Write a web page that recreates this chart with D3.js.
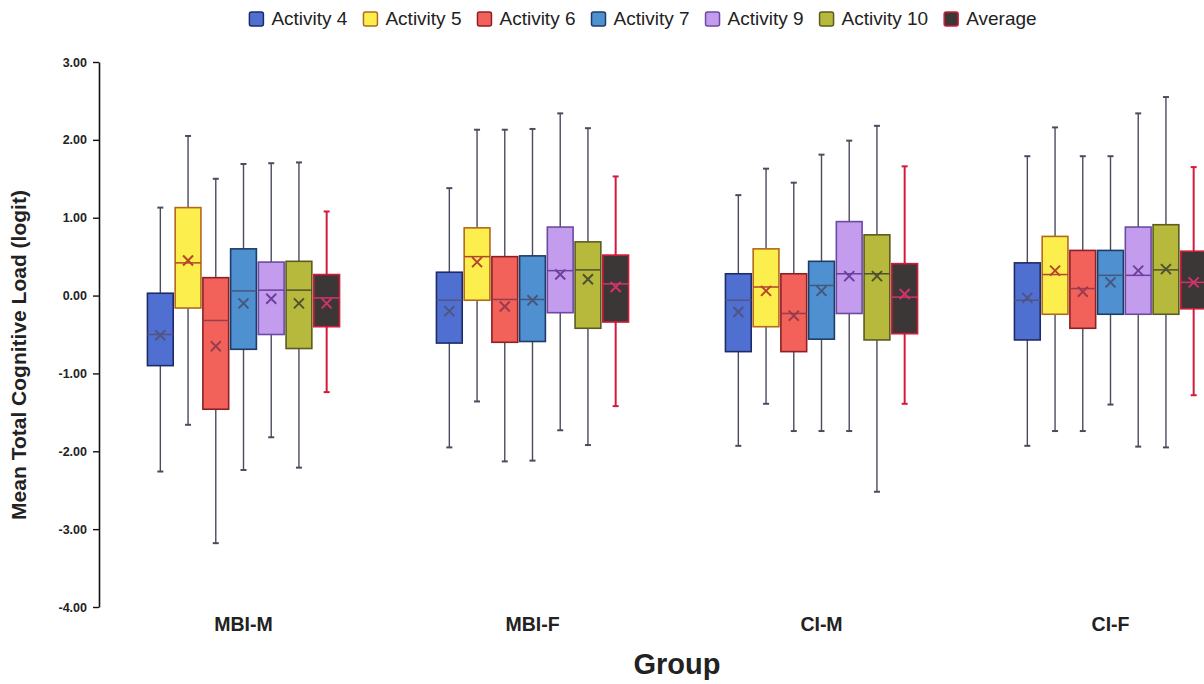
<!DOCTYPE html>
<html>
<head>
<meta charset="utf-8">
<script src="https://cdn.jsdelivr.net/npm/d3@7"></script>
<style>
  html, body { margin: 0; padding: 0; background: #fff; overflow: hidden; }
  svg { display: block; font-family: "Liberation Sans", Arial, sans-serif; }
</style>
</head>
<body>
<svg id="chart" width="1204" height="684"></svg>
<script>
// Groups along the x axis and the series drawn in each group
const groups = ["MBI-M", "MBI-F", "CI-M", "CI-F"];
const series = ["Activity 4", "Activity 5", "Activity 6", "Activity 7", "Activity 9", "Activity 10", "Average"];
const yTicks = [3, 2, 1, 0, -1, -2, -3, -4];

// Box-plot statistics: one row per series, one column per group
const whiskerHigh = [
  [1.13, 1.38, 1.29, 1.79],
  [2.05, 2.13, 1.63, 2.16],
  [1.50, 2.13, 1.45, 1.79],
  [1.69, 2.14, 1.81, 1.79],
  [1.70, 2.34, 1.99, 2.34],
  [1.71, 2.15, 2.18, 2.55],
  [1.08, 1.53, 1.66, 1.65]
];
const upperQuartile = [
  [0.03, 0.30, 0.28, 0.42],
  [1.13, 0.87, 0.60, 0.76],
  [0.23, 0.50, 0.28, 0.58],
  [0.60, 0.51, 0.44, 0.58],
  [0.43, 0.88, 0.95, 0.88],
  [0.44, 0.69, 0.78, 0.91],
  [0.27, 0.52, 0.41, 0.57]
];
const medians = [
  [-0.50, -0.06, -0.06, -0.06],
  [0.42, 0.50, 0.11, 0.27],
  [-0.32, -0.05, -0.23, 0.09],
  [0.06, -0.05, 0.13, 0.26],
  [0.07, 0.32, 0.28, 0.26],
  [0.07, 0.33, 0.28, 0.33],
  [-0.03, 0.15, -0.02, 0.17]
];
const means = [
  [-0.51, -0.20, -0.21, -0.03],
  [0.45, 0.43, 0.06, 0.32],
  [-0.65, -0.14, -0.26, 0.05],
  [-0.10, -0.06, 0.06, 0.17],
  [-0.04, 0.27, 0.25, 0.32],
  [-0.10, 0.21, 0.25, 0.34],
  [-0.10, 0.11, 0.02, 0.17]
];
const lowerQuartile = [
  [-0.90, -0.61, -0.72, -0.57],
  [-0.16, -0.06, -0.40, -0.24],
  [-1.46, -0.60, -0.72, -0.42],
  [-0.69, -0.59, -0.56, -0.24],
  [-0.50, -0.22, -0.23, -0.24],
  [-0.68, -0.42, -0.57, -0.24],
  [-0.40, -0.34, -0.49, -0.17]
];
const whiskerLow = [
  [-2.26, -1.95, -1.93, -1.93],
  [-1.66, -1.36, -1.39, -1.74],
  [-3.18, -2.13, -1.74, -1.74],
  [-2.24, -2.12, -1.74, -1.40],
  [-1.82, -1.73, -1.74, -1.94],
  [-2.21, -1.92, -2.52, -1.95],
  [-1.24, -1.42, -1.39, -1.28]
];

// Per-series styling
const fills   = ["#4f70d1", "#fbee4d", "#f2625b", "#4e90d0", "#c49cee", "#b7b93d", "#3b3737"];
const strokes = ["#1f2b68", "#b2691c", "#8c2024", "#1f3b68", "#6b4ba2", "#5b5b22", "#d21b3b"];
const marks   = ["#535384", "#b4462c", "#9a3c4c", "#46577c", "#6c409c", "#505132", "#d4326c"];
const whiskerColors = ["#4b4b5e", "#4b4b5e", "#4b4b5e", "#4b4b5e", "#4b4b5e", "#4b4b5e", "#d21b3b"];

const svg = d3.select("#chart");

const y = d3.scaleLinear().domain([-4, 3]).range([607, 62]);
const x = d3.scaleBand().domain(groups).range([99, 1255]).paddingInner(0).paddingOuter(0);
const xInner = d3.scaleBand().domain(series).range([-98, 98]).padding(0.07);

// Flatten the statistics into one record per box
const boxes = [];
series.forEach((s, si) => {
  groups.forEach((g, gi) => {
    boxes.push({
      series: s, si, group: g,
      hi: whiskerHigh[si][gi], q3: upperQuartile[si][gi], med: medians[si][gi],
      mean: means[si][gi], q1: lowerQuartile[si][gi], lo: whiskerLow[si][gi]
    });
  });
});

const cx = d => x(d.group) + x.bandwidth() / 2 + xInner(d.series) + xInner.bandwidth() / 2;
const bw = xInner.bandwidth();

const plot = svg.append("g");

const box = plot.selectAll("g.box").data(boxes).join("g").attr("class", "box");

// Whiskers
box.append("line")
  .attr("x1", cx).attr("x2", cx)
  .attr("y1", d => y(d.hi)).attr("y2", d => y(d.lo))
  .attr("stroke", d => whiskerColors[d.si])
  .attr("stroke-width", d => d.si === 6 ? 2 : 1.4);
// Whisker caps
["hi", "lo"].forEach(k => {
  box.append("line")
    .attr("x1", d => cx(d) - 3).attr("x2", d => cx(d) + 3)
    .attr("y1", d => y(d[k])).attr("y2", d => y(d[k]))
    .attr("stroke", d => whiskerColors[d.si])
    .attr("stroke-width", 2);
});

// Interquartile boxes
box.append("rect")
  .attr("x", d => cx(d) - bw / 2)
  .attr("width", bw)
  .attr("y", d => y(d.q3))
  .attr("height", d => y(d.q1) - y(d.q3))
  .attr("fill", d => fills[d.si])
  .attr("stroke", d => strokes[d.si])
  .attr("stroke-width", 1.6);

// Median lines
box.append("line")
  .attr("x1", d => cx(d) - bw / 2).attr("x2", d => cx(d) + bw / 2)
  .attr("y1", d => y(d.med)).attr("y2", d => y(d.med))
  .attr("stroke", d => marks[d.si])
  .attr("stroke-width", 1.5);

// Mean markers (x)
const r = 5;
box.append("path")
  .attr("d", d => {
    const px = cx(d), py = y(d.mean);
    return `M${px - r},${py - r}L${px + r},${py + r}M${px - r},${py + r}L${px + r},${py - r}`;
  })
  .attr("stroke", d => marks[d.si])
  .attr("stroke-width", 2)
  .attr("fill", "none");

// Y axis
const yAxis = svg.append("g")
  .attr("transform", "translate(99,0)")
  .call(d3.axisLeft(y).tickValues(yTicks).tickFormat(d => d.toFixed(2)).tickSize(6).tickSizeOuter(0));
yAxis.select(".domain").attr("stroke", "#111").attr("stroke-width", 1.6);
yAxis.selectAll(".tick line").attr("stroke", "#111").attr("stroke-width", 1.4);
yAxis.selectAll(".tick text")
  .attr("x", -12)
  .attr("font-family", "'Liberation Sans', Arial, sans-serif")
  .attr("font-size", 12.5)
  .attr("font-weight", "bold")
  .attr("fill", "#222");

// X axis labels (no axis line)
const xAxis = svg.append("g")
  .attr("transform", "translate(0,607)")
  .call(d3.axisBottom(x).tickSize(0).tickPadding(8));
xAxis.select(".domain").remove();
xAxis.selectAll(".tick text")
  .attr("dy", "0.4em")
  .attr("y", 16)
  .attr("font-family", "'Liberation Sans', Arial, sans-serif")
  .attr("font-size", 19.5)
  .attr("font-weight", "bold")
  .attr("fill", "#222");

// Axis titles
svg.append("text")
  .attr("transform", "translate(26,355) rotate(-90)")
  .attr("text-anchor", "middle")
  .attr("font-size", 21)
  .attr("font-weight", "bold")
  .attr("fill", "#222")
  .text("Mean Total Cognitive Load (logit)");

svg.append("text")
  .attr("x", 677).attr("y", 674)
  .attr("text-anchor", "middle")
  .attr("font-size", 29)
  .attr("font-weight", "bold")
  .attr("fill", "#222")
  .text("Group");

// Legend: swatch + label, laid out left to right and centred above the plot
const legend = svg.append("g").attr("class", "legend");
const items = legend.selectAll("g").data(series).join("g");
items.append("rect")
  .attr("y", 12).attr("width", 14).attr("height", 14).attr("rx", 2)
  .attr("fill", (d, i) => fills[i])
  .attr("stroke", (d, i) => strokes[i])
  .attr("stroke-width", 1.5);
items.append("text")
  .attr("x", 22).attr("y", 25)
  .attr("font-size", 19)
  .attr("fill", "#222")
  .text(d => d);
let cursor = 0;
items.each(function () {
  const w = 22 + d3.select(this).select("text").node().getComputedTextLength();
  d3.select(this).attr("transform", `translate(${cursor},0)`);
  cursor += w + 16;
});
const legendWidth = cursor - 16;
legend.attr("transform", `translate(${643 - legendWidth / 2},0)`);
</script>
</body>
</html>
